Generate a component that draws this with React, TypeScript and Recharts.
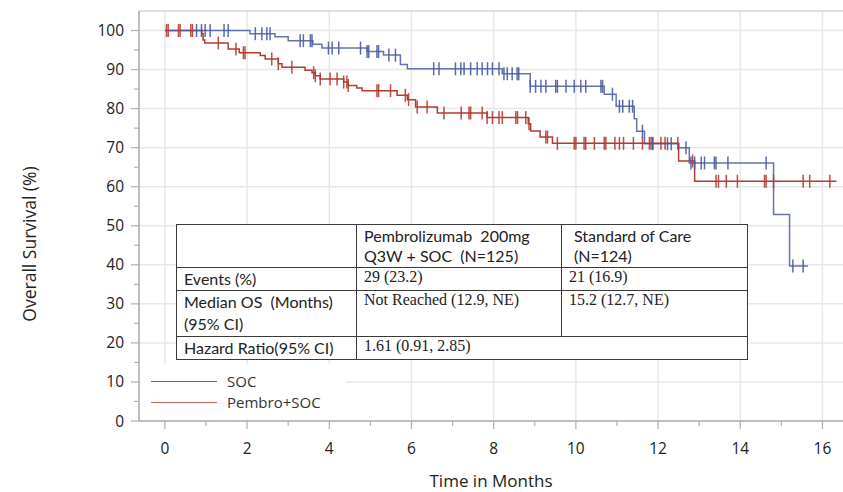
import React from "react";
import {
  ComposedChart,
  Line,
  Scatter,
  XAxis,
  YAxis,
  ReferenceLine,
} from "recharts";

// ---- Data ----
const SOC_STEPS: [number, number][] = [
  [0, 100], [2.07, 99.2], [2.68, 98.4], [3.0, 97.4], [3.6, 96.5], [3.82, 95.5],
  [4.92, 94.6], [5.32, 93.7], [5.73, 91.3], [5.9, 90.2], [8.21, 88.9], [8.89, 85.7],
  [10.69, 83.7], [10.98, 80.6], [11.42, 77.4], [11.48, 74.2], [11.67, 71.0],
  [12.5, 70.0], [12.76, 66.1], [14.81, 52.9], [15.2, 39.7], [15.65, 39.7],
];
const PEMBRO_STEPS: [number, number][] = [
  [0, 100], [0.9, 99.2], [0.93, 97.6], [0.97, 96.8], [1.54, 95.3], [1.81, 94.3],
  [2.32, 93.6], [2.44, 92.7], [2.76, 91.5], [2.85, 90.6], [3.41, 89.8], [3.58, 89.2],
  [3.66, 88.4], [3.78, 87.6], [4.35, 86.8], [4.46, 85.9], [4.67, 85.3], [4.8, 84.6],
  [5.65, 83.4], [5.9, 82.3], [6.1, 80.4], [6.63, 78.9], [7.84, 77.7], [8.84, 76.1],
  [8.9, 74.3], [9.13, 72.7], [9.43, 71.1], [12.5, 66.6], [12.89, 61.4], [16.34, 61.4],
];
const SOC_CENSOR = [
  0.77, 0.89, 0.98, 1.1, 1.44, 1.54, 2.2, 2.36, 2.48, 2.56, 3.29, 3.37, 3.54, 3.58,
  3.98, 4.07, 4.23, 4.76, 4.92, 4.96, 5.16, 5.2, 5.45, 5.61, 6.54, 6.67, 7.07, 7.2,
  7.28, 7.44, 7.6, 7.72, 7.85, 7.97, 8.13, 8.25, 8.33, 8.45, 8.57, 8.61, 8.89, 9.02,
  9.15, 9.27, 9.51, 9.55, 9.76, 9.96, 10.12, 10.24, 10.61, 10.65, 10.89, 11.06, 11.14,
  11.3, 11.38, 11.62, 11.87, 12.23, 12.32, 12.68, 12.8, 12.89, 13.05, 13.13, 13.37,
  13.41, 13.7, 14.63, 15.28, 15.53,
];
const PEMBRO_CENSOR = [
  0.04, 0.08, 0.33, 0.37, 0.63, 0.67, 1.3, 1.73, 1.91, 1.95, 2.6, 2.76, 3.09, 3.62,
  3.66, 3.78, 4.02, 4.19, 4.35, 4.43, 4.46, 5.16, 5.2, 5.49, 5.85, 5.93, 6.14, 6.38,
  6.79, 7.21, 7.4, 7.44, 7.72, 7.84, 7.97, 8.13, 8.21, 8.54, 8.58, 8.78, 8.86, 9.27,
  9.31, 9.55, 9.96, 10.0, 10.2, 10.24, 10.45, 10.69, 10.73, 10.95, 11.06, 11.16, 11.4,
  11.62, 11.79, 11.83, 11.87, 12.07, 12.17, 12.48, 12.84, 13.41, 13.47, 13.66, 13.93,
  14.59, 14.63, 14.81, 15.53, 15.69, 16.18,
];
const X_TICKS = [0, 1, 2, 3, 4, 5, 6, 7, 8, 9, 10, 11, 12, 13, 14, 15, 16];
const X_MAJOR = [0, 2, 4, 6, 8, 10, 12, 14, 16];
const Y_TICKS = [0, 5, 10, 15, 20, 25, 30, 35, 40, 45, 50, 55, 60, 65, 70, 75, 80, 85, 90, 95, 100];
const Y_MAJOR = [0, 10, 20, 30, 40, 50, 60, 70, 80, 90, 100];
const SERIES_NAMES = ["SOC", "Pembro+SOC"];
const TABLE_HEADER = ["", "Pembrolizumab  200mg\nQ3W + SOC  (N=125)", "Standard of Care\n(N=124)"];
const TABLE_ROWS = [
  ["Events (%)", "29 (23.2)", "21 (16.9)"],
  ["Median OS  (Months)\n(95% CI)", "Not Reached (12.9, NE)", "15.2 (12.7, NE)"],
  ["Hazard Ratio(95% CI)", "1.61 (0.91, 2.85)"],
];
const X_LABEL = "Time in Months";
const Y_LABEL = "Overall Survival (%)";

// ---- Styles ----
const BLUE = "#4a5aa3";
const RED = "#b23b31";
const AXIS_FONT = "'Open Sans', 'Noto Sans', sans-serif";

const toPoints = (steps: [number, number][]) => steps.map(([t, s]) => ({ t, s }));
const survivalAt = (steps: [number, number][], t: number) => {
  let v = steps[0][1];
  for (const [st, sv] of steps) {
    if (st <= t) v = sv;
  }
  return v;
};
const censorPoints = (steps: [number, number][], times: number[]) =>
  times.map((t) => ({ t, s: survivalAt(steps, t) }));

const socLine = toPoints(SOC_STEPS);
const pemLine = toPoints(PEMBRO_STEPS);
const socCens = censorPoints(SOC_STEPS, SOC_CENSOR);
const pemCens = censorPoints(PEMBRO_STEPS, PEMBRO_CENSOR);

const makeCensorShape = (color: string) => (props: any) => {
  const { cx, cy } = props;
  if (cx == null || cy == null) return <g />;
  return <line x1={cx} x2={cx} y1={cy - 6.5} y2={cy + 6.5} stroke={color} strokeWidth={1.5} strokeOpacity={0.9} />;
};

const XTick = (props: any) => {
  const { x, y, payload } = props;
  const v = payload.value;
  const major = X_MAJOR.includes(v);
  return (
    <g>
      <line x1={x} x2={x} y1={y} y2={y + (major ? 8 : 5)} stroke="#b0b0b0" strokeWidth={1.2} />
      {major && (
        <text x={x} y={y + 33} textAnchor="middle" fontSize={15.5} fill="#222" fontFamily={AXIS_FONT}>
          {v}
        </text>
      )}
    </g>
  );
};

const YTick = (props: any) => {
  const { x, y, payload } = props;
  const v = payload.value;
  const major = Y_MAJOR.includes(v);
  return (
    <g>
      <line x1={x - (major ? 8 : 5)} x2={x} y1={y} y2={y} stroke="#b0b0b0" strokeWidth={1.2} />
      {major && (
        <text x={x - 15} y={y + 5.5} textAnchor="end" fontSize={15.5} fill="#222" fontFamily={AXIS_FONT}>
          {v}
        </text>
      )}
    </g>
  );
};

const cellBase: React.CSSProperties = {
  border: "1.5px solid #3a3a3a",
  verticalAlign: "top",
  padding: "1px 0 0 7px",
  whiteSpace: "pre",
  color: "#222",
  overflow: "visible",
};
const labelFont: React.CSSProperties = { fontFamily: "Lato, 'Liberation Sans', sans-serif", fontSize: 16 };
const valueFont: React.CSSProperties = { fontFamily: "'Liberation Serif', serif", fontSize: 16 };

export default function App() {
  const rowHeights = [43, 22, 46, 23];
  return (
    <div style={{ position: "absolute", left: 0, top: 0, width: 843, height: 492, background: "#fff" }}>
      <ComposedChart width={843} height={492} margin={{ top: 11, right: 0, bottom: 0, left: 0 }}>
        {X_MAJOR.map((v) => (
          <ReferenceLine key={"gx" + v} x={v} stroke="#e8e8e8" strokeWidth={1.5} />
        ))}
        {Y_MAJOR.filter((v) => v > 0).map((v) => (
          <ReferenceLine key={"gy" + v} y={v} stroke="#e8e8e8" strokeWidth={1.5} />
        ))}
        <ReferenceLine y={105} stroke="#d4d4d4" strokeWidth={1.5} />
        <XAxis
          dataKey="t"
          type="number"
          domain={[-0.63, 16.5]}
          allowDataOverflow
          ticks={X_TICKS}
          interval={0}
          tickSize={0}
          tickMargin={0}
          tickLine={false}
          tick={<XTick />}
          height={71}
          stroke="#a8a8a8"
          strokeWidth={1.5}
          label={(p: any) => {
            const vb = p.viewBox || { x: 139, y: 421, width: 704, height: 71 };
            const cx = vb.x + vb.width / 2;
            return (
              <text x={cx} y={vb.y + 66} textAnchor="middle" fontSize={17} fill="#222" fontFamily={AXIS_FONT}>
                {X_LABEL}
              </text>
            );
          }}
        />
        <YAxis
          type="number"
          domain={[0, 105]}
          allowDataOverflow
          ticks={Y_TICKS}
          interval={0}
          tickSize={0}
          tickMargin={0}
          tickLine={false}
          tick={<YTick />}
          width={139}
          stroke="#a8a8a8"
          strokeWidth={1.5}
          label={(p: any) => {
            const vb = p.viewBox || { x: 0, y: 11, width: 139, height: 410 };
            const cx = vb.x + 29;
            const cy = vb.y + vb.height / 2 + 28;
            return (
              <text
                x={cx}
                y={cy}
                transform={`rotate(-90, ${cx}, ${cy})`}
                textAnchor="middle"
                dominantBaseline="central"
                fontSize={17.5}
                fill="#222"
                fontFamily={AXIS_FONT}
              >
                {Y_LABEL}
              </text>
            );
          }}
        />
        <Line
          data={pemLine}
          dataKey="s"
          type="stepAfter"
          stroke={RED}
          strokeWidth={1.5}
          dot={false}
          isAnimationActive={false}
          name={SERIES_NAMES[1]}
        />
        <Line
          data={socLine}
          dataKey="s"
          type="stepAfter"
          stroke={BLUE}
          strokeWidth={1.5}
          strokeOpacity={0.85}
          dot={false}
          isAnimationActive={false}
          name={SERIES_NAMES[0]}
        />
        <Scatter data={pemCens} dataKey="s" shape={makeCensorShape(RED)} isAnimationActive={false} />
        <Scatter data={socCens} dataKey="s" shape={makeCensorShape(BLUE)} isAnimationActive={false} />
      </ComposedChart>

      {/* Legend */}
      <div
        style={{
          position: "absolute",
          left: 141,
          top: 364,
          width: 205,
          height: 55,
          background: "#fff",
          fontFamily: AXIS_FONT,
          fontSize: 15,
          color: "#333",
        }}
      >
        {SERIES_NAMES.map((name, i) => (
          <div key={name} style={{ position: "absolute", left: 0, top: 7 + i * 21, height: 20, display: "flex", alignItems: "center" }}>
            <div style={{ marginLeft: 10, width: 66, height: 0, borderTop: `1.2px solid ${i === 0 ? "#5766a8" : "#cc625a"}` }} />
            <span style={{ marginLeft: 10 }}>{name}</span>
          </div>
        ))}
      </div>

      {/* Table */}
      <table
        style={{
          position: "absolute",
          left: 176,
          top: 224,
          width: 571,
          borderCollapse: "collapse",
          tableLayout: "fixed",
          background: "#fff",
        }}
      >
        <colgroup>
          <col style={{ width: 180 }} />
          <col style={{ width: 205 }} />
          <col style={{ width: 186 }} />
        </colgroup>
        <tbody>
          <tr style={{ height: rowHeights[0] }}>
            {TABLE_HEADER.map((h, i) => (
              <td key={i} style={{ ...cellBase, ...labelFont, lineHeight: "20px", paddingLeft: i === 2 ? 12 : 7 }}>
                {h}
              </td>
            ))}
          </tr>
          {TABLE_ROWS.map((row, r) => (
            <tr key={r} style={{ height: rowHeights[r + 1] }}>
              {row.map((c, i) => (
                <td
                  key={i}
                  colSpan={row.length === 2 && i === 1 ? 2 : 1}
                  style={{
                    ...cellBase,
                    ...(i === 0 ? labelFont : valueFont),
                    paddingTop: 0,
                    lineHeight: i === 0 ? "22px" : "17px",
                  }}
                >
                  {c}
                </td>
              ))}
            </tr>
          ))}
        </tbody>
      </table>
    </div>
  );
}
